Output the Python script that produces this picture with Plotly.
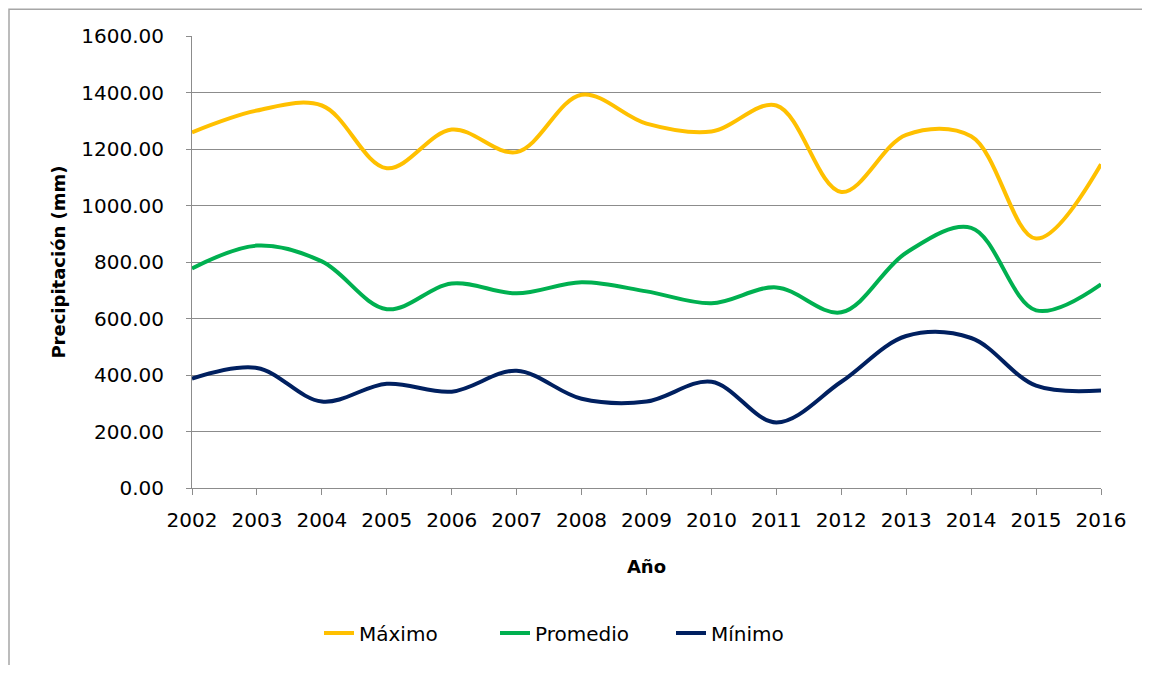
import plotly.graph_objects as go

years = [2002, 2003, 2004, 2005, 2006, 2007, 2008, 2009, 2010, 2011, 2012, 2013, 2014, 2015, 2016]
maximo = [1259, 1336, 1354, 1132, 1269, 1189, 1392, 1290, 1262, 1354, 1048, 1250, 1245, 883, 1146]
promedio = [777, 858, 802, 633, 724, 689, 728, 696, 654, 710, 622, 833, 921, 629, 721]
minimo = [387, 425, 306, 369, 341, 415, 316, 306, 376, 232, 376, 538, 531, 362, 345]

FONT = "DejaVu Sans"
fig = go.Figure()
for name, vals, col in [("Máximo", maximo, "#FFC000"), ("Promedio", promedio, "#00B050"), ("Mínimo", minimo, "#002060")]:
    fig.add_trace(go.Scatter(x=years, y=vals, name=name, mode="lines",
                             line=dict(color=col, width=4, shape="spline", smoothing=1)))

FW, FH = 1134, 657
L, R, T, B = 184, 1093, 28, 483
W = R - L
H = B - T
fig.update_layout(
    width=FW, height=FH,
    margin=dict(l=L, r=FW - R, t=T, b=FH - B, pad=0),
    paper_bgcolor="white", plot_bgcolor="white",
    font=dict(family=FONT, size=18, color="black"),
    showlegend=True,
    legend=dict(orientation="h", x=(575 - L) / W, xanchor="center", y=(B - 629) / H, yanchor="middle",
                font=dict(size=20), tracegroupgap=0, entrywidth=131, entrywidthmode="pixels"),
    xaxis=dict(range=[2002, 2016], tickmode="array", tickvals=years, ticktext=[str(y) for y in years],
               showgrid=False, showline=True, linecolor="#8c8c8c", linewidth=1,
               ticks="outside", ticklen=6, tickcolor="#8c8c8c", zeroline=False,
               ticklabelstandoff=8,
               title=dict(text="<b>Año</b>", font=dict(size=18), standoff=29),
               tickfont=dict(size=20)),
    yaxis=dict(range=[0, 1600], dtick=200, tickformat=".2f", showgrid=True, gridcolor="#8c8c8c",
               gridwidth=1, showline=True, linecolor="#8c8c8c", linewidth=1,
               ticks="outside", ticklen=5, tickcolor="#8c8c8c", zeroline=False,
               ticklabelstandoff=18,
               title=dict(text="<b>Precipitación (mm)</b>", font=dict(size=18), standoff=10),
               tickfont=dict(size=20)),
)
fig.add_shape(type="rect", xref="paper", yref="paper",
              x0=(1 - L) / W, x1=(1300 - L) / W, y0=(B - 800) / H, y1=(B - 1) / H,
              line=dict(color="#a6a6a6", width=1.5), fillcolor="rgba(0,0,0,0)", layer="below")
fig.write_html("out.html")
